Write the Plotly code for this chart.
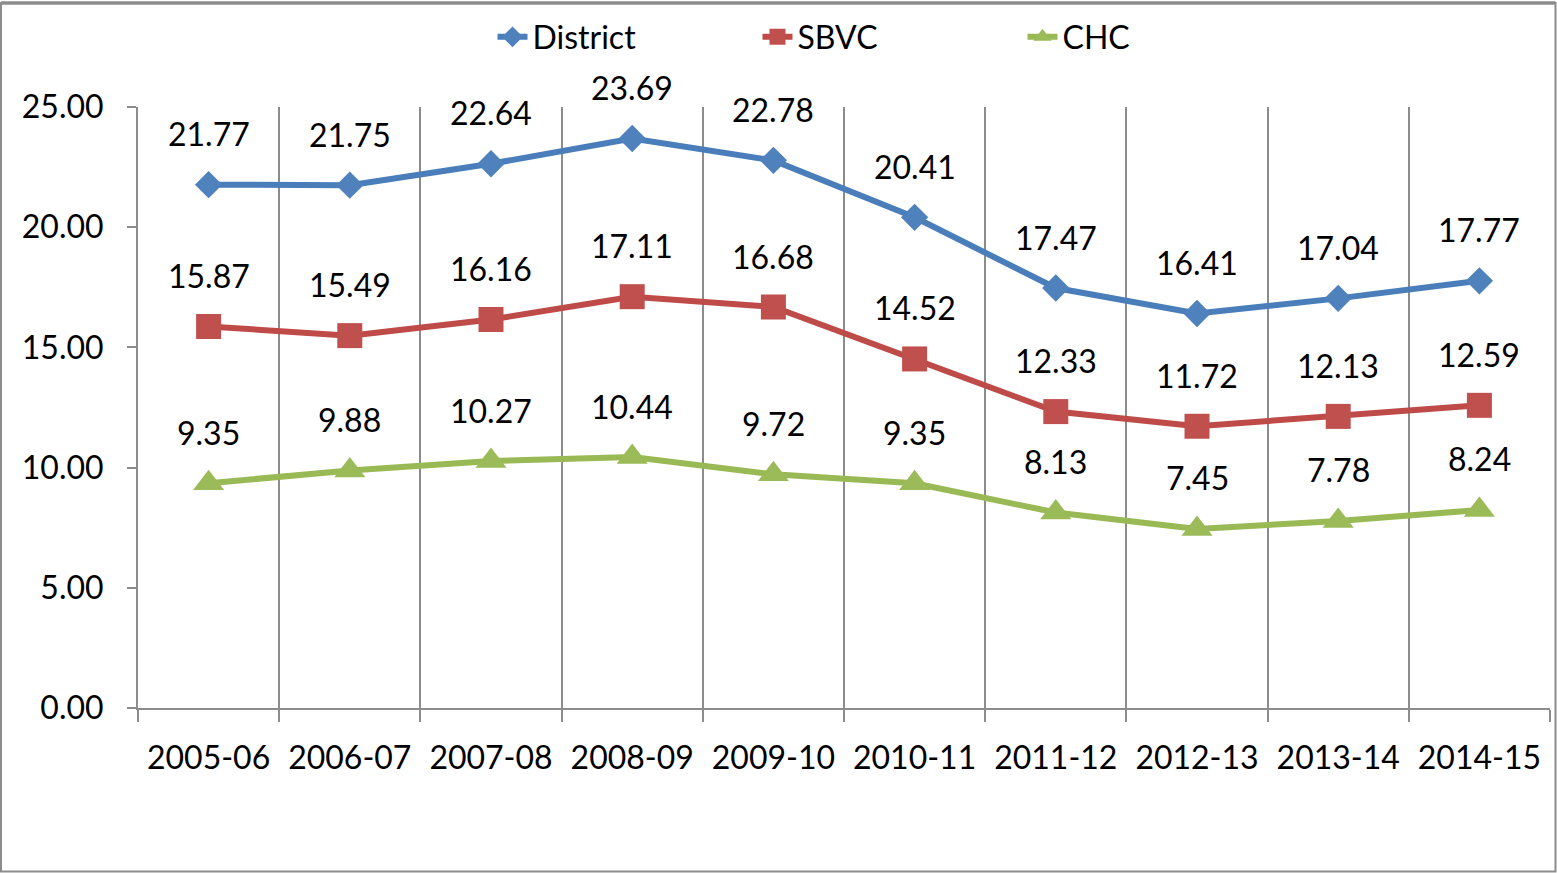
import plotly.graph_objects as go

categories = ["2005-06", "2006-07", "2007-08", "2008-09", "2009-10",
              "2010-11", "2011-12", "2012-13", "2013-14", "2014-15"]
district = [21.77, 21.75, 22.64, 23.69, 22.78, 20.41, 17.47, 16.41, 17.04, 17.77]
sbvc = [15.87, 15.49, 16.16, 17.11, 16.68, 14.52, 12.33, 11.72, 12.13, 12.59]
chc = [9.35, 9.88, 10.27, 10.44, 9.72, 9.35, 8.13, 7.45, 7.78, 8.24]
y_ticks = [0, 5, 10, 15, 20, 25]

FONT = "Lato"
FS = 32
W, H = 1557, 873
L, R, T, B = 138, 7, 107, 165

series = [
    ("District", district, "#4A7EBB", "#4F81BD", "diamond", 21),
    ("SBVC", sbvc, "#BE4B48", "#C0504D", "square", 25),
    ("CHC", chc, "#98B954", "#9BBB59", "triangle-up", 27),
]

fig = go.Figure()
annotations = []
for name, vals, lc, mc, sym, sz in series:
    fig.add_trace(go.Scatter(
        x=categories, y=vals, name=name, mode="lines+markers",
        line=dict(color=lc, width=6),
        marker=dict(symbol=sym, size=sz, color=mc, line=dict(width=0)),
        cliponaxis=False,
    ))
    for c, v in zip(categories, vals):
        annotations.append(dict(
            x=c, y=v, xref="x", yref="y", text=f"{v:.2f}", showarrow=False,
            yshift=51, font=dict(family=FONT, size=FS, color="#000000"),
        ))

pw = W - L - R
ph = H - T - B
def px(x):
    return (x - L) / pw
def py(y):
    return (T + ph - y) / ph

# outer chart border
fig.add_shape(type="rect", xref="paper", yref="paper",
              x0=px(1), x1=px(W - 1.5), y0=py(H - 1.5), y1=py(3),
              line=dict(color="#8C8C8C", width=2), layer="below")
fig.add_shape(type="line", xref="paper", yref="paper",
              x0=px(1), x1=px(W - 1.5), y0=py(3), y1=py(3),
              line=dict(color="#8C8C8C", width=3.5), layer="below")

fig.update_layout(
    width=W, height=H,
    margin=dict(l=L, r=R, t=T, b=B),
    paper_bgcolor="white", plot_bgcolor="white",
    font=dict(family=FONT, size=FS, color="#000000"),
    showlegend=True,
    legend=dict(orientation="h", x=0.5 + 46 / pw, xanchor="center", y=py(37),
                yanchor="middle", font=dict(family=FONT, size=FS),
                entrywidth=220, entrywidthmode="pixels",
                bgcolor="rgba(0,0,0,0)"),
    annotations=annotations,
    xaxis=dict(
        type="category", tickson="boundaries",
        showgrid=True, gridcolor="#8C8C8C", gridwidth=2,
        showline=True, linecolor="#8C8C8C", linewidth=2,
        ticks="outside", ticklen=12, tickwidth=2, tickcolor="#8C8C8C",
        tickfont=dict(family=FONT, size=FS), ticklabelstandoff=21,
        range=[-0.5, 9.5], zeroline=False,
    ),
    yaxis=dict(
        range=[0, 25], tickvals=y_ticks,
        ticktext=[f"{v:.2f}" for v in y_ticks],
        showgrid=False, zeroline=False,
        showline=True, linecolor="#8C8C8C", linewidth=2,
        ticks="outside", ticklen=9, tickwidth=2, tickcolor="#8C8C8C",
        tickfont=dict(family=FONT, size=FS), ticklabelstandoff=17,
    ),
)

fig.write_html("out.html", config={"displayModeBar": False},
               post_script="document.body.style.margin='0';document.body.style.overflow='hidden';")
